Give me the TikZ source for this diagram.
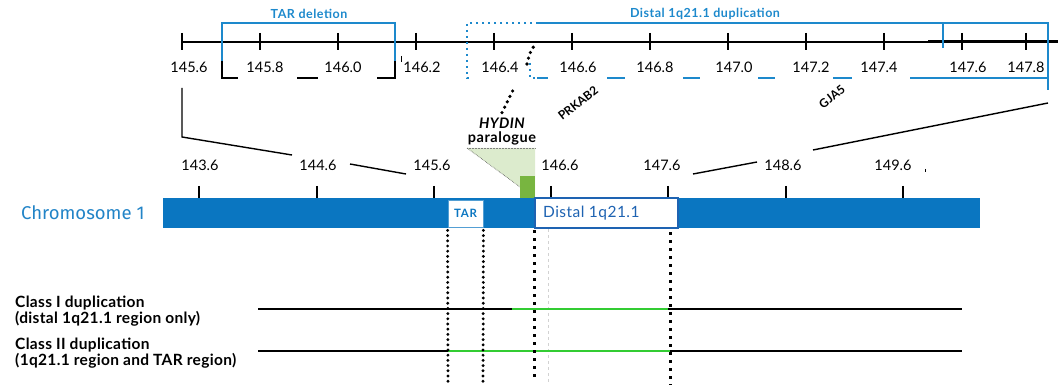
\documentclass[tikz,border=0pt]{standalone}
\usepackage{fontspec}
\setmainfont{Lato}
\newfontfamily\chromfont{Fira Sans}
\definecolor{chrblue}{HTML}{0A76C1}
\definecolor{boxblue}{HTML}{1E63B2}
\definecolor{dupblue}{HTML}{1D89CC}
\definecolor{hgreen}{HTML}{78B540}
\definecolor{lgreen}{HTML}{DCEBCD}
\definecolor{cgreen}{HTML}{33CC33}
\tikzset{
  num/.style={font=\fontsize{14.5}{15}\selectfont, inner sep=1pt},
  tickline/.style={line width=1.6pt},
  dupline/.style={dupblue, line width=1.6pt},
  dupdots/.style={dupblue, line width=2pt, dash pattern=on 2pt off 4pt},
  brk/.style={black, line width=1.6pt},
  zoomline/.style={line width=1.4pt},
  rounddots/.style={line width=3.2pt, line cap=round, dash pattern=on 0pt off 5.2pt},
  sqdots/.style={line width=3pt, dash pattern=on 3pt off 5pt},
  blabel/.style={font=\bfseries\fontsize{12.5}{13}\selectfont\addfontfeature{LetterSpace=4}, text=dupblue, inner sep=1pt},
  gene/.style={font=\bfseries\fontsize{12}{13}\selectfont, inner sep=0pt},
  classlbl/.style={font=\bfseries\fontsize{15.5}{16}\selectfont\addfontfeature{LetterSpace=2}, anchor=west, inner sep=0pt},
  classline/.style={line width=1.4pt},
  greenline/.style={cgreen, line width=2.6pt}
}
\begin{document}
\begin{tikzpicture}[x=1pt,y=-1pt]
\useasboundingbox (0,0) rectangle (1058,385);

% ---------- top (zoomed) ruler ----------
\draw[tickline] (182,42) -- (1058,42);
\draw[line width=2.6pt] (928,41) -- (1058,41);
\foreach \x/\l/\d [count=\i] in {182/145.6/7, 260/145.8/5, 338/146.0/5, 416/146.2/6, 494/146.4/6, 572/146.6/6, 650/146.8/5, 728/147.0/6, 806/147.2/5, 884/147.4/-5, 962/147.6/6, 1026/147.8/0}{
  \draw[tickline] (\x,33) -- (\x,50);
  \node[num] (t\i) at (\x+\d,67) {\l};
}
\draw[line width=1pt] (401,56) -- (401,62);

% TAR deletion bracket
\node[blabel] (tardel) at (309,14) {TAR deletion};
\draw[dupline] (222,61) -- (222,23) -- (395,23) -- (395,61);
\draw[brk] (222,61) -- (222,78) -- (238,78);
\draw[brk] (297,78) -- (318,78);
\draw[brk] (377,78) -- (395,78) -- (395,61);

% Distal 1q21.1 duplication bracket
\node[blabel] (dupl) at (705,14) {Distal 1q21.1 duplication};
\draw[dupdots] (538,23) -- (467,23) -- (467,78) -- (471,78);
\draw[dupdots] (530,63) -- (530,78) -- (537,78);
\draw[dupline] (538,23) -- (1048,23) -- (1048,90);
\draw[dupline] (943,23) -- (943,48);
\draw[dupline] (537,78) -- (548,78);
\draw[dupline] (607,78) -- (625,78);
\draw[dupline] (683,78) -- (700,78);
\draw[dupline] (758,78) -- (775,78);
\draw[dupline] (833,78) -- (852,78);
\draw[dupline] (910,78) -- (1048,78);

% gene labels
\node[gene, rotate=38] (prkab) at (578,103) {PRKAB2};
\node[gene, rotate=38] (gja) at (832,97) {GJA5};

% HYDIN paralogue
\node[font=\bfseries\itshape\fontsize{14.5}{15}\selectfont\addfontfeature{LetterSpace=3}, inner sep=1pt] (hydin) at (502,123) {HYDIN};
\node[font=\bfseries\fontsize{14.5}{15}\selectfont\addfontfeature{LetterSpace=4}, inner sep=1pt] (paral) at (502,138) {paralogue};
\draw[line width=3.6pt, line cap=round, dash pattern=on 0pt off 6pt] (hydin.north) ++(0,-4) .. controls (508,100) .. (515,86);
\draw[line width=3.6pt, line cap=round, dash pattern=on 0pt off 6pt] (527,64) .. controls (530,52) .. (536,43);

% zoom connector lines
\draw[zoomline] (182,88) -- (182,137) -- (292,155);
\draw[zoomline] (350,164) -- (406,174);
\draw[zoomline] (1048,103) -- (813,150);
\draw[zoomline] (757,162) -- (693,174);

% ---------- chromosome ruler ----------
\foreach \x/\l/\lx [count=\i] in {199/143.6/200, 317/144.6/318, 434/145.6/432, 551/146.6/560, 668/147.6/662, 786/148.6/783, 903/149.6/893}{
  \draw[tickline] (\x,186) -- (\x,198);
  \node[num] (m\i) at (\lx,165) {\l};
}
\draw[line width=1pt] (531,164) -- (531,171);
\draw[line width=0.8pt] (925,169) -- (925,172);

% HYDIN paralogue triangle and green block
\fill[lgreen] (467,148) -- (535,148) -- (535,198) -- cycle;
\draw[gray, line width=0.5pt, densely dotted] (467,148) -- (535,148);
\draw[black!70, line width=0.6pt, densely dotted] (467,148) -- (535,198);
\fill[hgreen] (520,176) rectangle (535,198);

% chromosome bar
\node[fill=chrblue, draw=none, minimum width=817pt, minimum height=30pt, inner sep=0pt] (chr) at (571.5,213) {};
\node[anchor=west, text=chrblue!90!white, font=\chromfont\fontsize{18.5}{19}\selectfont, inner sep=0pt] (chrlbl) at (21,213) {Chromosome 1};
\node[fill=white, draw=chrblue!70, line width=0.8pt, minimum width=35pt, minimum height=27pt, inner sep=0pt, font=\bfseries\fontsize{11.5}{12}\selectfont\addfontfeature{LetterSpace=6}, text=chrblue] (tar) at (465.5,213.5) {TAR};
\node[fill=white, draw=boxblue, line width=1.4pt, minimum width=143pt, minimum height=30pt, inner sep=0pt] (distal) at (606.5,213) {};
\node[anchor=west, text=boxblue, font=\fontsize{15.5}{16}\selectfont\addfontfeature{LetterSpace=3}, inner sep=0pt] (distlbl) at (543,213) {Distal 1q21.1};

% ---------- breakpoints ----------
\coordinate (b1) at (448,385);
\coordinate (b2) at (483,385);
\coordinate (b3) at (534,381);
\coordinate (b4) at (670,385);
\draw[gray!35, line width=0.5pt, dashed] (548,229) -- (548,385);
\draw[classline] (258,309) -- (962,309);
\draw[greenline] (512,309) -- (668,309);
\draw[classline] (258,351) -- (962,351);
\draw[greenline] (448,351) -- (670,351);
\draw[rounddots] (tar.south west) ++(0,3) -- (b1);
\draw[rounddots] (tar.south east) ++(0,3) -- (b2);
\draw[sqdots] (534,230) -- (b3);
\draw[sqdots] (670,232) -- (b4);

% class labels
\node[classlbl] (c1a) at (15,303) {Class I duplication};
\node[classlbl] (c1b) at (15,319) {(distal 1q21.1 region only)};
\node[classlbl] (c2a) at (15,345) {Class II duplication};
\node[classlbl] (c2b) at (15,361) {(1q21.1 region and TAR region)};
\end{tikzpicture}
\end{document}
